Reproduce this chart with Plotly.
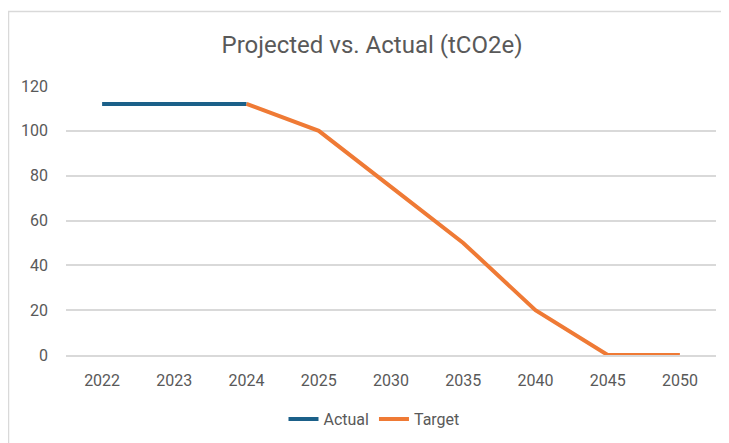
import plotly.graph_objects as go

categories = ["2022", "2023", "2024", "2025", "2030", "2035", "2040", "2045", "2050"]
actual = [112, 112, 112, None, None, None, None, None, None]
target = [None, None, 112, 100, 75, 50, 20, 0, 0]
y_ticks = [0, 20, 40, 60, 80, 100, 120]

FONT = "Roboto, Arial"
GRAY = "#595959"

fig = go.Figure()
fig.add_trace(go.Scatter(x=categories, y=actual, name="Actual", mode="lines",
                         line=dict(color="#1b6089", width=4), connectgaps=False))
fig.add_trace(go.Scatter(x=categories, y=target, name="Target", mode="lines",
                         line=dict(color="#ef7a35", width=4), connectgaps=False))

# page body has an 8px margin; work in figure coordinates (screen - 8)
W, H = 721, 435
l, r, t, b = 58, 13, 78, 88
pw, ph = W - l - r, H - t - b

def px2paper_x(px):
    return (px - l) / pw

def px2paper_y(py):
    return (H - b - py) / ph

fig.add_shape(type="rect", xref="paper", yref="paper",
              x0=px2paper_x(0.5), x1=px2paper_x(740), y0=px2paper_y(460), y1=px2paper_y(3.5),
              line=dict(color="#d9d9d9", width=1.5), fillcolor="rgba(0,0,0,0)", layer="below")

fig.update_layout(
    width=W, height=H,
    margin=dict(l=l, r=r, t=t, b=b),
    paper_bgcolor="white", plot_bgcolor="white",
    font=dict(family=FONT, color=GRAY, size=15),
    title=dict(text="Projected vs. Actual (tCO2e)", x=364 / W, xref="container", xanchor="center",
               y=1 - 37 / H, yanchor="middle", yref="container",
               font=dict(family=FONT, size=24, color=GRAY)),
    showlegend=True,
    legend=dict(orientation="h", x=366 / W, xanchor="center", xref="container",
                y=1 - 411 / H, yanchor="middle", yref="container",
                font=dict(family=FONT, size=16, color=GRAY), itemwidth=30,
                tracegroupgap=0),
    xaxis=dict(type="category", categoryorder="array", categoryarray=categories,
               showgrid=False, showline=True, linecolor="#d9d9d9", linewidth=1.5,
               ticks="", tickfont=dict(family=FONT, size=16, color=GRAY),
               ticklabelstandoff=10, range=[-0.5, 8.5], zeroline=False),
    yaxis=dict(range=[0, 120], tickvals=y_ticks, showgrid=True, gridcolor="#d9d9d9",
               gridwidth=1.5, showline=False, zeroline=False, ticks="",
               tickfont=dict(family=FONT, size=16, color=GRAY), ticklabelstandoff=17),
)

fig.write_html("out.html")
